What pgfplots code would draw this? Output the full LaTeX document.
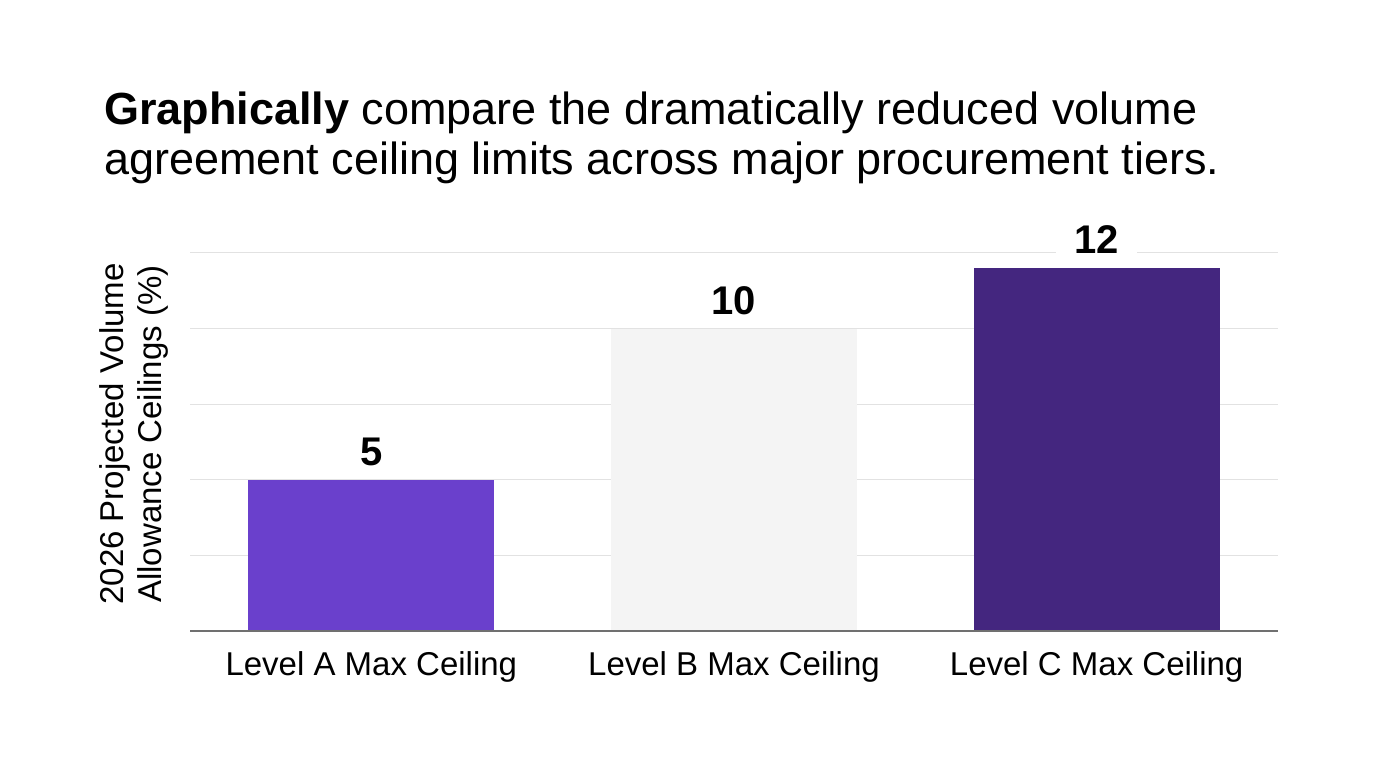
\documentclass[border=0pt]{standalone}
\usepackage{fontspec}
\setmainfont{Liberation Sans}
\usepackage{pgfplots}
\pgfplotsset{compat=1.18}

\definecolor{barA}{HTML}{6A40CC}
\definecolor{barB}{HTML}{F4F4F4}
\definecolor{barC}{HTML}{44267F}
\definecolor{gridgray}{HTML}{E2E2E2}
\definecolor{axisgray}{HTML}{707070}

\begin{document}
\begin{tikzpicture}
% page frame
\path[use as bounding box, fill=white] (0,0) rectangle (1376pt,768pt);

% title
\node[anchor=base west, inner sep=0pt, font=\fontsize{45}{50}\selectfont]
  at (104pt,643pt) {\textbf{Graphically} compare the dramatically reduced volume};
\node[anchor=base west, inner sep=0pt, font=\fontsize{45}{50}\selectfont]
  at (104pt,593pt) {agreement ceiling limits across major procurement tiers.};

% y axis title
\node[rotate=90, align=center, font=\fontsize{33}{38}\selectfont]
  at (134pt,334pt) {2026 Projected Volume\\Allowance Ceilings (\%)};

\begin{axis}[
  at={(190pt,137pt)}, anchor=south west,
  scale only axis, width=1088pt, height=378pt,
  xmin=-0.5, xmax=2.5, ymin=0, ymax=12.5,
  axis line style={draw=none},
  tick style={draw=none},
  ytick={0,2.5,5,7.5,10,12.5}, yticklabels={},
  ymajorgrids, grid style={gridgray, line width=1pt},
  xtick={0,1,2},
  xticklabels={Level A Max Ceiling, Level B Max Ceiling, Level C Max Ceiling},
  xticklabel style={font=\fontsize{33}{36}\selectfont, yshift=-13pt},
  ybar, bar width=246pt, bar shift=0pt,
  nodes near coords,
  nodes near coords style={font=\bfseries\fontsize{40}{42}\selectfont,
    /pgf/number format/assume math mode=true,
    fill=white, inner xsep=18pt, inner ysep=2pt, anchor=south, yshift=12pt},
  clip=false,
]
\addplot[fill=barA, draw=none] coordinates {(0,5)};
\addplot[fill=barB, draw=none] coordinates {(1,10)};
\addplot[fill=barC, draw=none] coordinates {(2,12)};
\draw[axisgray, line width=1.3pt] (axis cs:-0.5,0) -- (axis cs:2.5,0);
\end{axis}
\end{tikzpicture}
\end{document}
